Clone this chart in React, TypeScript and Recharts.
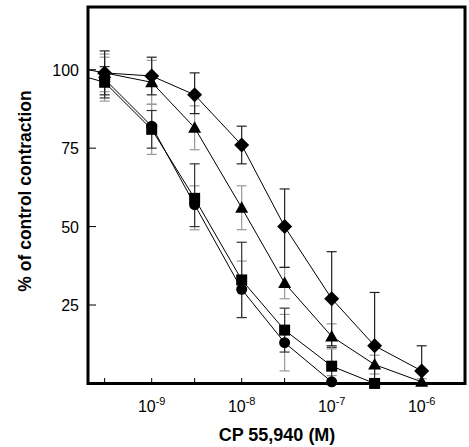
import React from 'react';
import { LineChart, Line, XAxis, YAxis, ErrorBar, ReferenceArea, Label } from 'recharts';

const X_MIN = 1.96e-10;
const X_MAX = 3.03e-6;
const xTicks = [3e-10, 1e-9, 3e-9, 1e-8, 3e-8, 1e-7, 3e-7, 1e-6];
const yTicks = [25, 50, 75, 100];

const conc = [3e-10, 1e-9, 3e-9, 1e-8, 3e-8, 1e-7, 3e-7, 1e-6];

const diamondVals = [99, 98, 92, 76, 50, 27, 12, 4];
const diamondErr = [[7, 7], [6, 6], [6, 7], [6, 6], [13, 12], [15, 15], [12, 17], [4, 8]];

const triangleVals = [99, 96, 81.5, 56, 32, 15, 6, 0.5];
const triangleErr = [[6, 6], [7, 7], [7, 7], [7, 7], [5, 5], [4, 4], [3, 3], [1, 1]];

const squareVals = [96, 81, 59, 33, 17, 5.5, 0];
const squareErr = [[5, 5], [6, 6], [9, 11], [12, 12], [7, 7], [5, 6], [0, 1]];

const circleVals = [97, 82, 57, 30, 13, 0.5];
const circleErr = [[7, 7], [9, 7], [8, 6], [9, 9], [9, 9], [0.5, 2]];

const leadUpper = [{ x: X_MIN, y: 100 }, { x: 3e-10, y: 99 }];
const leadLower = [{ x: X_MIN, y: 97.5 }, { x: 3e-10, y: 96 }];

const build = (vals: number[], errs: number[][]) =>
  vals.map((v, i) => ({ x: conc[i], y: v, err: errs[i] }));

const diamondData = build(diamondVals, diamondErr);
const triangleData = build(triangleVals, triangleErr);
const squareData = build(squareVals, squareErr);
const circleData = build(circleVals, circleErr);

const FONT = '"Liberation Sans", Arial, Helvetica, sans-serif';

const DiamondDot = (p: any) => {
  const { cx, cy, index } = p;
  if (cx == null || cy == null) return <g key={`dd-${index}`} />;
  const r = 7.5;
  return (
    <polygon
      key={`dd-${index}`}
      points={`${cx},${cy - r} ${cx + r},${cy} ${cx},${cy + r} ${cx - r},${cy}`}
      fill="#000"
    />
  );
};

const TriangleDot = (p: any) => {
  const { cx, cy, index } = p;
  if (cx == null || cy == null) return <g key={`td-${index}`} />;
  return (
    <polygon
      key={`td-${index}`}
      points={`${cx},${cy - 6.5} ${cx + 6.5},${cy + 5} ${cx - 6.5},${cy + 5}`}
      fill="#000"
    />
  );
};

const SquareDot = (p: any) => {
  const { cx, cy, index } = p;
  if (cx == null || cy == null) return <g key={`sd-${index}`} />;
  return <rect key={`sd-${index}`} x={cx - 5.5} y={cy - 5.5} width={11} height={11} fill="#000" />;
};

const CircleDot = (p: any) => {
  const { cx, cy, index } = p;
  if (cx == null || cy == null) return <g key={`cd-${index}`} />;
  return <circle key={`cd-${index}`} cx={cx} cy={cy} r={5.5} fill="#000" />;
};

const YTick = (props: any) => {
  const { x, y, payload } = props;
  return (
    <g>
      <line x1={x} x2={x + 8} y1={y} y2={y} stroke="#000" strokeWidth={1} />
      <text x={x - 9} y={y} dy={6} textAnchor="end" fontSize={16} fontFamily={FONT} fill="#000">
        {payload.value}
      </text>
    </g>
  );
};

const XTick = (props: any) => {
  const { x, y, payload } = props;
  const v = payload.value as number;
  const e = Math.round(Math.log10(v));
  const isDecade = Math.abs(v - Math.pow(10, e)) / v < 0.01;
  return (
    <g>
      <line x1={x} x2={x} y1={y} y2={y - 7} stroke="#000" strokeWidth={1} />
      {isDecade && (
        <text x={x} y={y + 27} textAnchor="middle" fontSize={16} fontFamily={FONT} fill="#000">
          <tspan>10</tspan>
          <tspan dy={-7} fontSize={11}>{`-${Math.abs(e)}`}</tspan>
        </text>
      )}
    </g>
  );
};

export default function App() {
  return (
    <div style={{ position: 'absolute', left: 0, top: 0, width: 469, height: 447, background: '#fff' }}>
      <LineChart width={469} height={447} margin={{ top: 7, right: 4, bottom: 0, left: 0 }}>
        <XAxis
          dataKey="x"
          type="number"
          scale="log"
          domain={[X_MIN, X_MAX]}
          allowDataOverflow
          ticks={xTicks}
          tick={<XTick />}
          tickSize={0}
          tickMargin={0}
          tickLine={false}
          axisLine={false}
          height={62}
          interval={0}
        >
          <Label
            content={() => (
              <text x={277} y={441} textAnchor="middle" fontSize={18} fontWeight="bold" fontFamily={FONT} fill="#000">
                CP 55,940 (M)
              </text>
            )}
          />
        </XAxis>
        <YAxis
          type="number"
          domain={[0, 120]}
          ticks={yTicks}
          tick={<YTick />}
          tickSize={0}
          tickMargin={0}
          tickLine={false}
          axisLine={false}
          width={88}
          interval={0}
        >
          <Label
            content={() => (
              <text
                x={25}
                y={191}
                transform="rotate(-90 25 191)"
                textAnchor="middle"
                dominantBaseline="central"
                fontSize={17.5}
                fontWeight="bold"
                fontFamily={FONT}
                fill="#000"
              >
                % of control contraction
              </text>
            )}
          />
        </YAxis>
        <ReferenceArea
          x1={X_MIN}
          x2={X_MAX}
          y1={0}
          y2={120}
          fill="none"
          fillOpacity={0}
          stroke="#000"
          strokeWidth={3}
          ifOverflow="visible"
        />
        <Line type="linear" data={leadUpper} dataKey="y" stroke="#000" strokeWidth={1} dot={false} isAnimationActive={false} />
        <Line type="linear" data={leadLower} dataKey="y" stroke="#000" strokeWidth={1} dot={false} isAnimationActive={false} />
        <Line type="linear" data={circleData} dataKey="y" stroke="#000" strokeWidth={1} dot={CircleDot} isAnimationActive={false}>
          <ErrorBar dataKey="err" direction="y" width={5} stroke="#999" strokeWidth={1.2} />
        </Line>
        <Line type="linear" data={squareData} dataKey="y" stroke="#000" strokeWidth={1} dot={SquareDot} isAnimationActive={false}>
          <ErrorBar dataKey="err" direction="y" width={5} stroke="#333" strokeWidth={1.2} />
        </Line>
        <Line type="linear" data={triangleData} dataKey="y" stroke="#000" strokeWidth={1} dot={TriangleDot} isAnimationActive={false}>
          <ErrorBar dataKey="err" direction="y" width={5} stroke="#999" strokeWidth={1.2} />
        </Line>
        <Line type="linear" data={diamondData} dataKey="y" stroke="#000" strokeWidth={1} dot={DiamondDot} isAnimationActive={false}>
          <ErrorBar dataKey="err" direction="y" width={5} stroke="#222" strokeWidth={1.2} />
        </Line>
      </LineChart>
    </div>
  );
}
